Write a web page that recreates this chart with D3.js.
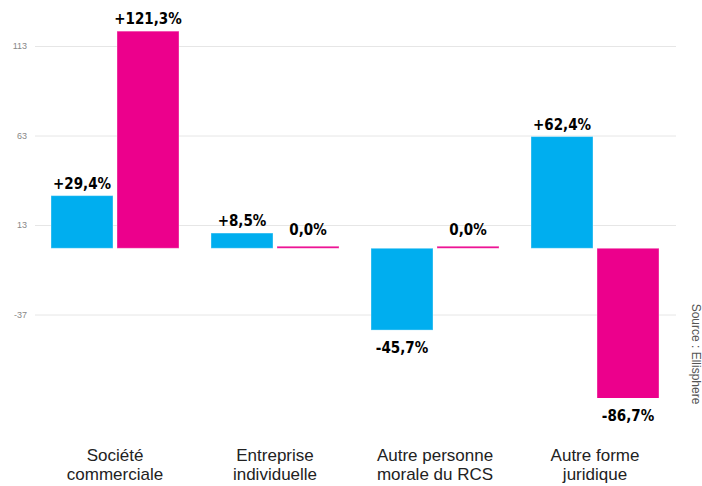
<!DOCTYPE html>
<html>
<head>
<meta charset="utf-8">
<script src="https://cdn.jsdelivr.net/npm/d3@7"></script>
<style>
  body { margin: 0; background: #fff; }
  svg { display: block; }
</style>
</head>
<body>
<script>
// categories (two-line labels) and the two series
var categories = ["Société commerciale", "Entreprise individuelle", "Autre personne morale du RCS", "Autre forme juridique"];
var catLines = [["Société", "commerciale"], ["Entreprise", "individuelle"], ["Autre personne", "morale du RCS"], ["Autre forme", "juridique"]];
var seriesNames = ["s1", "s2"];
var seriesColors = ["#00aeef", "#ec008c"];
var values1 = [29.4, 8.5, -45.7, 62.4];
var values2 = [121.3, 0.0, 0.0, -86.7];
var labels1 = ["+29,4%", "+8,5%", "-45,7%", "+62,4%"];
var labels2 = ["+121,3%", "0,0%", "0,0%", "-86,7%"];
var tickValues = [-37, 13, 63, 113];

var width = 702, height = 486;
var plotTop = 0, plotBottom = 398;   // bars are clipped to the plot area

var svg = d3.select("body").append("svg")
    .attr("width", width)
    .attr("height", height);

svg.append("clipPath").attr("id", "plot")
  .append("rect")
    .attr("x", 35).attr("y", plotTop)
    .attr("width", 641).attr("height", plotBottom - plotTop);

// scales
var x0 = d3.scaleBand().domain(categories).range([35, 675]);
var x1 = d3.scaleBand().domain(seriesNames).range([16, 144]).paddingInner(4 / 66);
var y = d3.scaleLinear().domain([-37, 113]).range([314.5, 46]);

// grid + tick labels
var yAxis = svg.append("g")
    .attr("transform", "translate(35,0)")
    .call(d3.axisLeft(y).tickValues(tickValues).tickSize(-641).tickFormat(function(d) { return String(d); }));
yAxis.select(".domain").remove();
yAxis.selectAll(".tick line").attr("stroke", "#e6e6e6");
yAxis.selectAll(".tick text")
    .attr("x", -8)
    .style("font-family", "Liberation Sans, Arial, sans-serif")
    .style("font-size", "9px")
    .attr("fill", "#888");

// build rows
var rows = categories.map(function(c, i) {
  return [
    {cat: c, s: "s1", v: values1[i], label: labels1[i], color: seriesColors[0]},
    {cat: c, s: "s2", v: values2[i], label: labels2[i], color: seriesColors[1]}
  ];
});
var flat = [].concat.apply([], rows);

function barTop(d) {
  if (d.v === 0) return y(0) - 2;
  return Math.min(y(d.v), y(0));
}
function barH(d) {
  if (d.v === 0) return 2;
  return Math.abs(y(d.v) - y(0));
}

svg.append("g")
    .attr("clip-path", "url(#plot)")
  .selectAll("rect")
  .data(flat)
  .enter().append("rect")
    .attr("x", function(d) { return x0(d.cat) + x1(d.s); })
    .attr("y", barTop)
    .attr("width", x1.bandwidth())
    .attr("height", barH)
    .attr("fill", function(d) { return d.color; })
    .attr("stroke", "#fff")
    .attr("stroke-opacity", 0.35)
    .attr("stroke-width", 1);

// value labels
svg.append("g").selectAll("text")
  .data(flat)
  .enter().append("text")
    .attr("x", function(d) { return x0(d.cat) + x1(d.s) + x1.bandwidth() / 2; })
    .attr("y", function(d) {
      if (d.v < 0) return Math.min(y(d.v), plotBottom) + 23;
      if (d.v === 0) return y(0) - 13;
      return y(d.v) - 7;
    })
    .attr("text-anchor", "middle")
    .style("font-family", "DejaVu Sans Condensed, DejaVu Sans, sans-serif")
    .style("font-weight", "bold")
    .style("font-size", "15px")
    .attr("fill", "#000")
    .text(function(d) { return d.label; });

// category labels
var catG = svg.append("g").selectAll("text")
  .data(categories)
  .enter().append("text")
    .attr("x", function(d) { return x0(d) + x0.bandwidth() / 2; })
    .attr("y", 461)
    .attr("text-anchor", "middle")
    .style("font-family", "Liberation Sans, Arial, sans-serif")
    .style("font-size", "17px")
    .attr("fill", "#222");
catG.each(function(d, i) {
  var t = d3.select(this);
  catLines[i].forEach(function(line, k) {
    t.append("tspan")
      .attr("x", x0(d) + x0.bandwidth() / 2)
      .attr("dy", k === 0 ? 0 : 19)
      .text(line);
  });
});

// source credit, rotated
svg.append("text")
    .attr("transform", "translate(691.5,354) rotate(90)")
    .attr("text-anchor", "middle")
    .style("font-family", "Liberation Sans, Arial, sans-serif")
    .style("font-size", "12px")
    .attr("fill", "#555")
    .text("Source : Ellisphere");
</script>
</body>
</html>
